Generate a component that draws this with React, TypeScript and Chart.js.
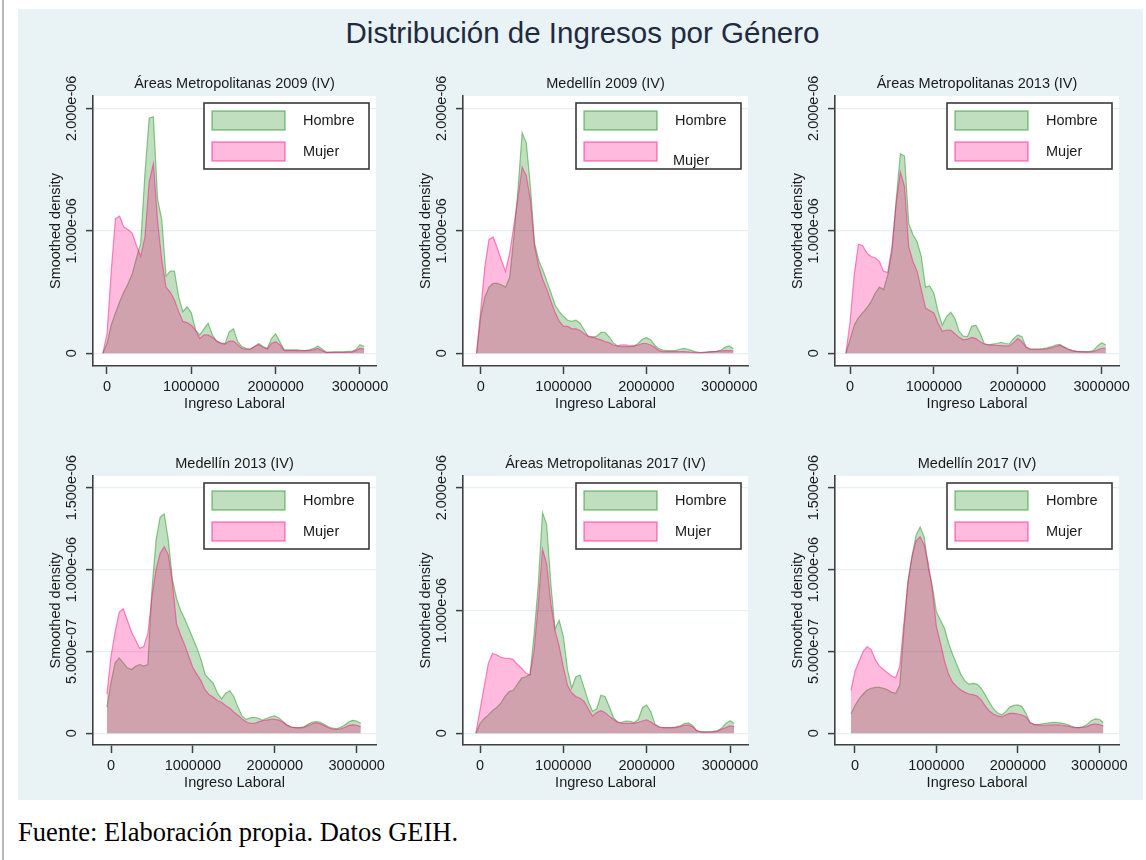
import React, { useEffect, useRef } from "react";
import { Chart, registerables } from "chart.js";

Chart.register(...registerables);

// ---------------- data ----------------
const INCOME_GRID = [
  -50000, 0, 50000, 100000, 150000, 200000, 250000, 300000, 350000, 400000,
  450000, 500000, 550000, 600000, 650000, 700000, 750000, 800000, 850000, 900000,
  950000, 1000000, 1050000, 1100000, 1150000, 1200000, 1250000, 1300000, 1350000, 1400000,
  1450000, 1500000, 1550000, 1600000, 1650000, 1700000, 1750000, 1800000, 1850000, 1900000,
  1950000, 2000000, 2050000, 2100000, 2150000, 2200000, 2250000, 2300000, 2350000, 2400000,
  2450000, 2500000, 2550000, 2600000, 2650000, 2700000, 2750000, 2800000, 2850000, 2900000,
  2950000, 3000000, 3050000,
];

// densities in units of 1e-6
const DENSITY_UNIT = 1e-6;

const AM_2009_HOMBRE = [
  0, 0.08, 0.23, 0.33, 0.42, 0.5, 0.57, 0.65, 0.78, 0.9,
  1.47, 1.92, 1.93, 1.26, 1.09, 0.63, 0.67, 0.67, 0.46, 0.34,
  0.38, 0.33, 0.19, 0.15, 0.2, 0.245, 0.15, 0.1, 0.085, 0.08,
  0.175, 0.2, 0.095, 0.055, 0.04, 0.035, 0.055, 0.08, 0.055, 0.04,
  0.12, 0.16, 0.095, 0.03, 0.028, 0.028, 0.028, 0.025, 0.022, 0.028,
  0.04, 0.06, 0.035, 0.01, 0.01, 0.012, 0.012, 0.012, 0.015, 0.015,
  0.03, 0.07, 0.055,
];
const AM_2009_MUJER = [
  0, 0.16, 0.67, 1.1, 1.12, 1.03, 1.01, 0.98, 0.88, 0.79,
  0.95, 1.4, 1.55, 1.08, 0.76, 0.54, 0.5, 0.435, 0.34, 0.26,
  0.25, 0.23, 0.19, 0.12, 0.15, 0.15, 0.13, 0.1, 0.08, 0.075,
  0.1, 0.1, 0.07, 0.04, 0.033, 0.033, 0.055, 0.07, 0.05, 0.033,
  0.08, 0.095, 0.07, 0.022, 0.022, 0.022, 0.022, 0.022, 0.022, 0.022,
  0.028, 0.04, 0.022, 0.006, 0.008, 0.008, 0.008, 0.008, 0.008, 0.008,
  0.022, 0.04, 0.035,
];
const MED_2009_HOMBRE = [
  0, 0.3, 0.46, 0.54, 0.57, 0.57, 0.56, 0.54, 0.62, 0.95,
  1.34, 1.8, 1.72, 1.36, 0.9, 0.76, 0.68, 0.585, 0.49, 0.39,
  0.34, 0.3, 0.27, 0.26, 0.27, 0.245, 0.19, 0.135, 0.13, 0.14,
  0.17, 0.17, 0.135, 0.087, 0.06, 0.054, 0.054, 0.054, 0.06, 0.08,
  0.115, 0.128, 0.11, 0.068, 0.038, 0.027, 0.022, 0.022, 0.022, 0.033,
  0.04, 0.033, 0.022, 0.011, 0.005, 0.008, 0.011, 0.014, 0.016, 0.027,
  0.05, 0.06, 0.038,
];
const MED_2009_MUJER = [
  0, 0.35, 0.71, 0.93, 0.95, 0.86, 0.76, 0.67, 0.82, 1.04,
  1.27, 1.52, 1.45, 1.25, 0.87, 0.71, 0.6, 0.52, 0.42, 0.33,
  0.26, 0.22, 0.22, 0.2, 0.2, 0.185, 0.16, 0.14, 0.135, 0.12,
  0.11, 0.095, 0.087, 0.068, 0.06, 0.068, 0.068, 0.06, 0.06, 0.068,
  0.08, 0.08, 0.068, 0.05, 0.022, 0.014, 0.014, 0.014, 0.014, 0.014,
  0.014, 0.011, 0.008, 0.005, 0.005, 0.008, 0.011, 0.014, 0.016, 0.019,
  0.022, 0.022, 0.019,
];
const AM_2013_HOMBRE = [
  0, 0.11, 0.23, 0.29, 0.33, 0.37, 0.42, 0.49, 0.54, 0.52,
  0.64, 0.83, 1.25, 1.63, 1.61, 1.06, 0.97, 0.91, 0.79, 0.54,
  0.55, 0.49, 0.34, 0.23, 0.3, 0.335, 0.285, 0.18, 0.14, 0.136,
  0.22, 0.23, 0.165, 0.08, 0.07, 0.076, 0.08, 0.09, 0.08, 0.076,
  0.12, 0.15, 0.136, 0.05, 0.035, 0.035, 0.035, 0.038, 0.044, 0.054,
  0.068, 0.073, 0.054, 0.035, 0.022, 0.016, 0.014, 0.014, 0.014, 0.022,
  0.06, 0.087, 0.068,
];
const AM_2013_MUJER = [
  0, 0.25, 0.64, 0.89, 0.88, 0.82, 0.79, 0.78, 0.75, 0.67,
  0.66, 0.87, 1.22, 1.48, 1.36, 0.87, 0.75, 0.67, 0.52, 0.37,
  0.35, 0.33, 0.245, 0.18, 0.19, 0.19, 0.16, 0.13, 0.11, 0.115,
  0.13, 0.12, 0.095, 0.076, 0.068, 0.068, 0.065, 0.063, 0.06, 0.06,
  0.087, 0.12, 0.095, 0.05, 0.033, 0.033, 0.033, 0.033, 0.038, 0.044,
  0.054, 0.065, 0.05, 0.033, 0.022, 0.016, 0.014, 0.011, 0.011, 0.014,
  0.027, 0.041, 0.041,
];
const MED_2013_HOMBRE = [
  0.16, 0.31, 0.43, 0.46, 0.43, 0.4, 0.39, 0.41, 0.42, 0.41,
  0.42, 0.88, 1.18, 1.32, 1.34, 1.18, 0.94, 0.825, 0.75, 0.7,
  0.64, 0.58, 0.52, 0.45, 0.36, 0.33, 0.305, 0.245, 0.21, 0.245,
  0.26, 0.225, 0.16, 0.106, 0.085, 0.094, 0.098, 0.092, 0.08, 0.092,
  0.1, 0.106, 0.094, 0.073, 0.049, 0.037, 0.035, 0.035, 0.039, 0.053,
  0.067, 0.071, 0.069, 0.055, 0.041, 0.031, 0.029, 0.035, 0.049, 0.069,
  0.079, 0.075, 0.061,
];
const MED_2013_MUJER = [
  0.24, 0.47, 0.62, 0.74, 0.76, 0.69, 0.62, 0.57, 0.52, 0.53,
  0.61, 0.835, 1.0, 1.1, 1.14, 1.09, 0.92, 0.67, 0.6, 0.54,
  0.47, 0.4, 0.36, 0.32, 0.265, 0.235, 0.22, 0.2, 0.19, 0.17,
  0.153, 0.13, 0.11, 0.088, 0.07, 0.06, 0.06, 0.07, 0.077, 0.08,
  0.085, 0.085, 0.08, 0.067, 0.05, 0.039, 0.035, 0.033, 0.035, 0.045,
  0.057, 0.063, 0.059, 0.047, 0.035, 0.026, 0.022, 0.026, 0.035, 0.047,
  0.053, 0.049, 0.041,
];
const AM_2017_HOMBRE = [
  0, 0.08, 0.12, 0.15, 0.185, 0.21, 0.245, 0.3, 0.34, 0.35,
  0.4, 0.45, 0.46, 0.48, 0.81, 1.22, 1.8, 1.7, 1.22, 0.85,
  0.92, 0.79, 0.52, 0.37, 0.46, 0.475, 0.37, 0.26, 0.18, 0.2,
  0.31, 0.3, 0.22, 0.13, 0.092, 0.09, 0.1, 0.098, 0.087, 0.114,
  0.21, 0.23, 0.176, 0.076, 0.049, 0.046, 0.046, 0.046, 0.052, 0.06,
  0.079, 0.084, 0.065, 0.022, 0.014, 0.014, 0.014, 0.016, 0.022, 0.041,
  0.081, 0.103, 0.081,
];
const AM_2017_MUJER = [
  0, 0.19, 0.38, 0.57, 0.65, 0.64, 0.62, 0.61, 0.61, 0.6,
  0.56, 0.53, 0.49, 0.475, 0.68, 1.06, 1.5, 1.38, 1.06, 0.84,
  0.71, 0.54, 0.39, 0.33, 0.3, 0.285, 0.26, 0.2, 0.14, 0.17,
  0.185, 0.17, 0.14, 0.114, 0.092, 0.081, 0.081, 0.081, 0.081, 0.09,
  0.1, 0.11, 0.092, 0.068, 0.052, 0.046, 0.046, 0.046, 0.046, 0.054,
  0.065, 0.068, 0.054, 0.022, 0.011, 0.008, 0.008, 0.011, 0.016, 0.033,
  0.046, 0.06, 0.054,
];
const MED_2017_HOMBRE = [
  0.12, 0.17, 0.21, 0.24, 0.265, 0.275, 0.28, 0.28, 0.275, 0.265,
  0.25, 0.245, 0.295, 0.63, 0.93, 1.08, 1.21, 1.26, 1.2, 1.01,
  0.9, 0.74, 0.69, 0.64, 0.55, 0.48, 0.42, 0.36, 0.32, 0.3,
  0.305, 0.3, 0.275, 0.235, 0.19, 0.15, 0.126, 0.112, 0.132, 0.16,
  0.17, 0.173, 0.163, 0.122, 0.065, 0.053, 0.053, 0.057, 0.061, 0.065,
  0.067, 0.065, 0.061, 0.055, 0.045, 0.037, 0.035, 0.041, 0.053, 0.077,
  0.088, 0.086, 0.065,
];
const MED_2017_MUJER = [
  0.26, 0.38, 0.44, 0.5, 0.53, 0.51, 0.45, 0.41, 0.39, 0.37,
  0.35, 0.34, 0.41, 0.67, 0.92, 1.08, 1.175, 1.2, 1.15, 1.04,
  0.875, 0.65, 0.55, 0.44, 0.36, 0.31, 0.285, 0.265, 0.25, 0.24,
  0.236, 0.228, 0.204, 0.167, 0.136, 0.118, 0.106, 0.1, 0.112, 0.122,
  0.122, 0.118, 0.112, 0.1, 0.065, 0.053, 0.051, 0.049, 0.049, 0.051,
  0.051, 0.051, 0.049, 0.045, 0.039, 0.035, 0.035, 0.037, 0.041, 0.053,
  0.057, 0.053, 0.045,
];

const X_TICKS = [0, 1000000, 2000000, 3000000];
const X_TICK_LABELS = ["0", "1000000", "2000000", "3000000"];
const Y_TICKS_A = [0, 1e-6, 2e-6];
const Y_TICK_LABELS_A = ["0", "1.000e-06", "2.000e-06"];
const Y_TICKS_B = [0, 5e-7, 1e-6, 1.5e-6];
const Y_TICK_LABELS_B = ["0", "5.000e-07", "1.000e-06", "1.500e-06"];

const SERIES_LABELS = ["Hombre", "Mujer"];
const PANEL_TITLES = [
  "Áreas Metropolitanas 2009 (IV)",
  "Medellín 2009 (IV)",
  "Áreas Metropolitanas 2013 (IV)",
  "Medellín 2013 (IV)",
  "Áreas Metropolitanas 2017 (IV)",
  "Medellín 2017 (IV)",
];
const MAIN_TITLE = "Distribución de Ingresos por Género";
const X_TITLE = "Ingreso Laboral";
const Y_TITLE = "Smoothed density";
const SOURCE_NOTE = "Fuente: Elaboración propia. Datos GEIH.";

// ---------------- style / layout ----------------
const FONT_FAMILY = '"Liberation Sans", Arial, Helvetica, sans-serif';
const TEXT_SIZE = 14.5;
const TEXT_COLOR = "#1a1a1a";
const AXIS_COLOR = "#404040";
const GRID_COLOR = "#e6eff1";
const PANEL_BG = "#e9f2f4";
const HOMBRE_FILL = "rgba(0, 128, 0, 0.25)";
const HOMBRE_LINE = "rgba(0, 128, 0, 0.42)";
const MUJER_FILL = "rgba(255, 0, 128, 0.27)";
const MUJER_LINE = "rgba(255, 0, 128, 0.45)";

const Y_AXIS_W = 80;
const TITLE_H = 40;
const X_AXIS_H = 50;
const RIGHT_PAD = 30;
const Y_TICK_LEN = 7;
const X_TICK_LEN = 8;
const Y_LABEL_CENTER = 21; // distance of rotated tick labels' centre from axis
const Y_TITLE_CENTER = 37.5;

const RANGE_A = [-0.1037e-6, 2.1004e-6];
const RANGE_B = [-0.0715e-6, 1.5715e-6];
const RANGE_C = [-0.0953e-6, 2.0953e-6];

const PANELS = [
  { title: PANEL_TITLES[0], hombre: AM_2009_HOMBRE, mujer: AM_2009_MUJER, yTicks: Y_TICKS_A, yLabels: Y_TICK_LABELS_A,
    area: { left: 93, top: 96, right: 376, bottom: 366 }, xRange: [-166000, 3190000], yRange: RANGE_A, mujerShift: [0, 0] },
  { title: PANEL_TITLES[1], hombre: MED_2009_HOMBRE, mujer: MED_2009_MUJER, yTicks: Y_TICKS_A, yLabels: Y_TICK_LABELS_A,
    area: { left: 463, top: 96, right: 748, bottom: 366 }, xRange: [-213600, 3225700], yRange: RANGE_A, mujerShift: [-2, 9] },
  { title: PANEL_TITLES[2], hombre: AM_2013_HOMBRE, mujer: AM_2013_MUJER, yTicks: Y_TICKS_A, yLabels: Y_TICK_LABELS_A,
    area: { left: 835, top: 96, right: 1119, bottom: 366 }, xRange: [-178800, 3206200], yRange: RANGE_A, mujerShift: [0, 0] },
  { title: PANEL_TITLES[3], hombre: MED_2013_HOMBRE, mujer: MED_2013_MUJER, yTicks: Y_TICKS_B, yLabels: Y_TICK_LABELS_B,
    area: { left: 93, top: 476, right: 376, bottom: 745 }, xRange: [-219800, 3235700], yRange: RANGE_B, mujerShift: [0, 0] },
  { title: PANEL_TITLES[4], hombre: AM_2017_HOMBRE, mujer: AM_2017_MUJER, yTicks: Y_TICKS_A, yLabels: Y_TICK_LABELS_A,
    area: { left: 463, top: 476, right: 748, bottom: 745 }, xRange: [-204000, 3216000], yRange: RANGE_C, mujerShift: [0, 0] },
  { title: PANEL_TITLES[5], hombre: MED_2017_HOMBRE, mujer: MED_2017_MUJER, yTicks: Y_TICKS_B, yLabels: Y_TICK_LABELS_B,
    area: { left: 835, top: 476, right: 1119, bottom: 745 }, xRange: [-245600, 3242000], yRange: RANGE_B, mujerShift: [0, 0] },
];

const fontString = `${TEXT_SIZE}px ${FONT_FAMILY}`;

function widestLabel(labels: string[]): number {
  const c = document.createElement("canvas").getContext("2d");
  if (!c) return 65;
  c.font = fontString;
  return Math.max(...labels.map((s) => c.measureText(s).width));
}

const plotAreaPlugin = {
  id: "plotAreaBg",
  beforeDraw(chart: any) {
    const { ctx, chartArea: a } = chart;
    ctx.save();
    ctx.fillStyle = "#ffffff";
    ctx.fillRect(a.left, a.top, a.right - a.left, a.bottom - a.top);
    ctx.restore();
  },
};

const legendBoxPlugin = {
  id: "boxLegend",
  afterDatasetsDraw(chart: any, _args: any, opts: any) {
    const { ctx, chartArea: a } = chart;
    const w = 165;
    const h = 66;
    const x0 = a.right - 7 - w;
    const y0 = a.top + 7;
    ctx.save();
    ctx.fillStyle = "#ffffff";
    ctx.fillRect(x0, y0, w, h);
    ctx.lineWidth = 1.6;
    ctx.strokeStyle = "#3a3a3a";
    ctx.strokeRect(x0, y0, w, h);
    chart.data.datasets.forEach((d: any, i: number) => {
      const sy = y0 + 8 + i * 31;
      ctx.fillStyle = d.backgroundColor;
      ctx.fillRect(x0 + 8, sy, 73, 19);
      ctx.strokeStyle = d.borderColor;
      ctx.lineWidth = 1.5;
      ctx.strokeRect(x0 + 8, sy, 73, 19);
      const shift = i === 1 && opts && opts.mujerShift ? opts.mujerShift : [0, 0];
      ctx.fillStyle = TEXT_COLOR;
      ctx.font = fontString;
      ctx.textBaseline = "middle";
      ctx.textAlign = "left";
      ctx.fillText(d.label, x0 + 99 + shift[0], sy + 9.5 + shift[1]);
    });
    ctx.restore();
  },
};

function DensityPanel({ spec }: { spec: any }) {
  const ref = useRef<HTMLCanvasElement>(null);
  const { left, top, right, bottom } = spec.area;
  const width = right - left + Y_AXIS_W + RIGHT_PAD;
  const height = bottom - top + TITLE_H + X_AXIS_H;

  useEffect(() => {
    const canvas = ref.current;
    if (!canvas) return;
    const widest = widestLabel(spec.yLabels);
    const yPad = Y_LABEL_CENTER - Y_TICK_LEN - widest / 2;
    const font = { family: FONT_FAMILY, size: TEXT_SIZE };
    const toPoints = (vals: number[]) => INCOME_GRID.map((x, i) => ({ x, y: vals[i] * DENSITY_UNIT }));

    const chart = new Chart(canvas, {
      type: "line",
      data: {
        datasets: [
          {
            label: SERIES_LABELS[0],
            data: toPoints(spec.hombre),
            borderColor: HOMBRE_LINE,
            backgroundColor: HOMBRE_FILL,
            borderWidth: 1.2,
            fill: "origin",
            pointRadius: 0,
            tension: 0,
            order: 2,
          },
          {
            label: SERIES_LABELS[1],
            data: toPoints(spec.mujer),
            borderColor: MUJER_LINE,
            backgroundColor: MUJER_FILL,
            borderWidth: 1.2,
            fill: "origin",
            pointRadius: 0,
            tension: 0,
            order: 1,
          },
        ],
      },
      options: {
        animation: false,
        responsive: false,
        devicePixelRatio: 1,
        events: [],
        layout: { padding: { left: 0, top: 0, right: RIGHT_PAD, bottom: 0 } },
        plugins: {
          legend: { display: false },
          tooltip: { enabled: false },
          title: {
            display: true,
            text: spec.title,
            fullSize: false,
            color: TEXT_COLOR,
            font: { ...font, weight: "normal" },
            padding: { top: 19.3, bottom: 3.3 },
          },
          boxLegend: { mujerShift: spec.mujerShift },
        },
        scales: {
          x: {
            type: "linear",
            min: spec.xRange[0],
            max: spec.xRange[1],
            bounds: "data",
            afterBuildTicks: (s: any) => {
              s.ticks = X_TICKS.map((v) => ({ value: v }));
            },
            afterFit: (s: any) => {
              s.height = X_AXIS_H;
            },
            ticks: {
              autoSkip: false,
              maxRotation: 0,
              minRotation: 0,
              padding: 4.3,
              color: TEXT_COLOR,
              font,
              callback: (_v: any, i: number) => X_TICK_LABELS[i],
            },
            grid: {
              drawOnChartArea: false,
              drawTicks: true,
              tickLength: X_TICK_LEN,
              tickColor: AXIS_COLOR,
              tickWidth: 1.5,
            },
            border: { display: true, color: AXIS_COLOR, width: 1.6 },
            title: {
              display: true,
              text: X_TITLE,
              color: TEXT_COLOR,
              font,
              padding: { top: 0, bottom: 3.3 },
            },
          },
          y: {
            type: "linear",
            min: spec.yRange[0],
            max: spec.yRange[1],
            bounds: "data",
            afterBuildTicks: (s: any) => {
              s.ticks = spec.yTicks.map((v: number) => ({ value: v }));
            },
            afterFit: (s: any) => {
              s.width = Y_AXIS_W;
            },
            ticks: {
              autoSkip: false,
              minRotation: 90,
              maxRotation: 90,
              crossAlign: "center",
              padding: yPad,
              color: TEXT_COLOR,
              font,
              callback: (_v: any, i: number) => spec.yLabels[i],
            },
            grid: {
              drawOnChartArea: true,
              color: GRID_COLOR,
              lineWidth: 1.2,
              drawTicks: true,
              tickLength: Y_TICK_LEN,
              tickColor: AXIS_COLOR,
              tickWidth: 1.5,
            },
            border: { display: true, color: AXIS_COLOR, width: 1.6 },
            title: {
              display: true,
              text: Y_TITLE,
              color: TEXT_COLOR,
              font,
              padding: { top: Y_AXIS_W - Y_TITLE_CENTER - (TEXT_SIZE * 1.2) / 2, bottom: 0 },
            },
          },
        },
      },
      plugins: [plotAreaPlugin, legendBoxPlugin],
    } as any);
    return () => chart.destroy();
  }, [spec]);

  return (
    <canvas
      ref={ref}
      width={width}
      height={height}
      style={{ position: "absolute", left: left - Y_AXIS_W, top: top - TITLE_H, width, height }}
    />
  );
}

export default function App() {
  return (
    <div
      style={{
        position: "absolute",
        left: 0,
        top: 0,
        width: 1146,
        height: 860,
        background: "#ffffff",
        overflow: "hidden",
      }}
    >
      <div style={{ position: "absolute", left: 2, top: 0, width: 2, height: 860, background: "#b8b8b8" }} />
      <div style={{ position: "absolute", left: 18, top: 9, width: 1125, height: 791, background: PANEL_BG }} />
      <div
        style={{
          position: "absolute",
          left: 582.5,
          top: 16.1,
          transform: "translateX(-50%)",
          whiteSpace: "nowrap",
          fontFamily: FONT_FAMILY,
          fontSize: 29.5,
          lineHeight: "34px",
          color: "#1e2b40",
        }}
      >
        {MAIN_TITLE}
      </div>
      {PANELS.map((p, i) => (
        <DensityPanel key={i} spec={p} />
      ))}
      <div
        style={{
          position: "absolute",
          left: 18,
          top: 817,
          whiteSpace: "nowrap",
          fontFamily: '"Liberation Serif", "Times New Roman", serif',
          fontSize: 26.5,
          lineHeight: "30px",
          color: "#000000",
        }}
      >
        {SOURCE_NOTE}
      </div>
    </div>
  );
}
